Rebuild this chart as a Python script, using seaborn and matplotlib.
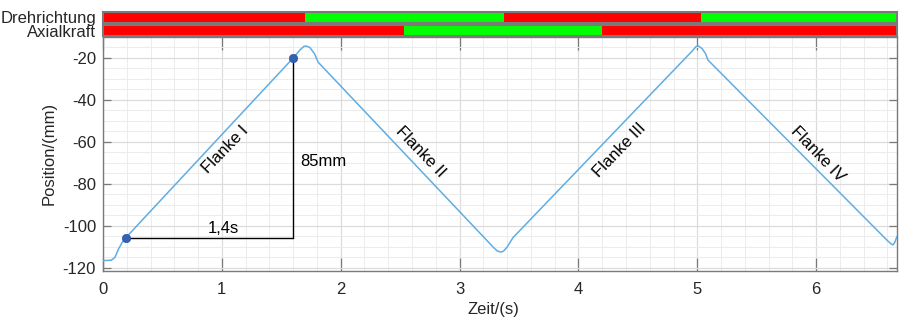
import numpy as np
import pandas as pd
import matplotlib
matplotlib.use("Agg")
import matplotlib.pyplot as plt
from matplotlib.ticker import MultipleLocator
import seaborn as sns

# Measured slide position over time
zeit = [0.00, 0.07, 0.10, 0.13, 0.16, 0.19, 1.60, 1.66, 1.69, 1.71, 1.74, 1.78, 1.81,
        3.29, 3.32, 3.345, 3.37, 3.40, 3.45, 4.96, 4.99, 5.01, 5.04, 5.07, 5.09,
        6.60, 6.63, 6.645, 6.66, 6.68]
position = [-116.5, -116.3, -115.0, -111.0, -108.0, -105.7, -20.0, -16.0, -14.5, -14.3,
            -15.0, -18.0, -22.0, -110.5, -112.0, -112.4, -112.0, -110.0, -105.5, -16.5,
            -14.5, -14.3, -15.5, -18.0, -21.0, -107.0, -108.5, -109.0, -108.0, -105.0]

# Status signals: segment start, segment length, state (1 = green, 0 = red)
dreh_start = [0.00, 1.70, 3.37, 5.03]
dreh_len = [1.70, 1.67, 1.66, 1.70]
dreh_state = [0, 1, 0, 1]
axial_start = [0.00, 2.53, 4.20]
axial_len = [2.53, 1.67, 2.50]
axial_state = [0, 1, 0]

# Marked points for the slope measurement
mark_t = [0.19, 1.60]
mark_y = [-105.7, -20.0]

flank_names = ["Flanke I", "Flanke II", "Flanke III", "Flanke IV"]
flank_t = [1.03, 2.67, 4.35, 6.01]
flank_y = [-63.8, -64.8, -63.8, -66.0]
flank_rot = [46, -46, 46, -46]

sns.set_theme(style="white")
plt.rcParams["font.family"] = ["Liberation Sans", "DejaVu Sans"]
plt.rcParams["axes.unicode_minus"] = False

TXT = "#262626"
EDGE = "#7a7a7a"
FS = 12

fig = plt.figure(figsize=(8.99, 3.21), dpi=100)
W = 794 / 899
ax = fig.add_axes([103 / 899, 1 - 270.7 / 321, W, (270.7 - 37) / 321])
ax_d = fig.add_axes([103 / 899, 1 - 22.7 / 321, W, 11 / 321])
ax_a = fig.add_axes([103 / 899, 1 - 36.2 / 321, W, 11 / 321])

df = pd.DataFrame({"Zeit": zeit, "Position": position})
sns.lineplot(data=df, x="Zeit", y="Position", ax=ax, color="#5fade3", lw=1.1,
             zorder=3, sort=False)

ax.set_xlim(0, 6.68)
ax.set_ylim(-121.3, -10)
ax.xaxis.set_major_locator(MultipleLocator(1))
ax.xaxis.set_minor_locator(MultipleLocator(0.2))
ax.yaxis.set_major_locator(MultipleLocator(20))
ax.yaxis.set_minor_locator(MultipleLocator(5))
ax.grid(True, which="major", color="#dcdcdc", lw=0.9)
ax.grid(True, which="minor", color="#ececec", lw=0.7)
ax.set_axisbelow(True)
ax.tick_params(axis="x", which="major", direction="in", length=9.5, width=0.9,
               color=EDGE, top=True, bottom=True, labelsize=FS, labelcolor=TXT, pad=8)
ax.tick_params(axis="y", which="major", direction="in", length=5.5, width=0.9,
               color=EDGE, left=True, right=True, labelsize=FS, labelcolor=TXT, pad=5)
ax.tick_params(which="minor", length=0)
for s in ax.spines.values():
    s.set_color(EDGE)
    s.set_linewidth(1.0)
ax.set_xlabel("Zeit/(s)", fontsize=FS, color=TXT, va="center")
ax.set_ylabel("Position/(mm)", fontsize=FS, color=TXT, va="center")
ax.xaxis.set_label_coords((493 - 103) / 794, -0.168)
ax.yaxis.set_label_coords((49 - 103) / 794, 0.50)

# slope triangle
ax.plot([mark_t[0], mark_t[1]], [mark_y[0], mark_y[0]], color="black", lw=1.0, zorder=4)
ax.plot([mark_t[1], mark_t[1]], [mark_y[0], mark_y[1]], color="black", lw=1.0, zorder=4)
ax.scatter(mark_t, mark_y, s=36, color="#3362b0", zorder=5, edgecolor="#2a55a0", lw=0.5)
ax.text(1.01, -101.4, "1,4s", fontsize=FS, color="black", ha="center", va="center")
ax.text(1.66, -69.5, "85mm", fontsize=FS, color="black", ha="left", va="center")

for name, t, y, r in zip(flank_names, flank_t, flank_y, flank_rot):
    ax.text(t, y, name, fontsize=FS, color="black", ha="center", va="center",
            rotation=r, rotation_mode="anchor")

colors = {0: "#ff0000", 1: "#00ff00"}
for a, label, starts, lens, states in [
        (ax_d, "Drehrichtung", dreh_start, dreh_len, dreh_state),
        (ax_a, "Axialkraft", axial_start, axial_len, axial_state)]:
    a.barh([0] * len(starts), lens, left=starts, height=1.0,
           color=[colors[s] for s in states], edgecolor="none")
    a.set_xlim(0, 6.68)
    a.set_ylim(-0.5, 0.5)
    a.set_xticks([])
    a.set_yticks([0])
    a.set_yticklabels([label])
    a.tick_params(axis="y", direction="in", length=4, width=0.9, color="#555555",
                  left=True, right=True, labelsize=FS, labelcolor=TXT, pad=5)
    for s in a.spines.values():
        s.set_color(EDGE)
        s.set_linewidth(1.5)

fig.savefig("out.png", dpi=100)
